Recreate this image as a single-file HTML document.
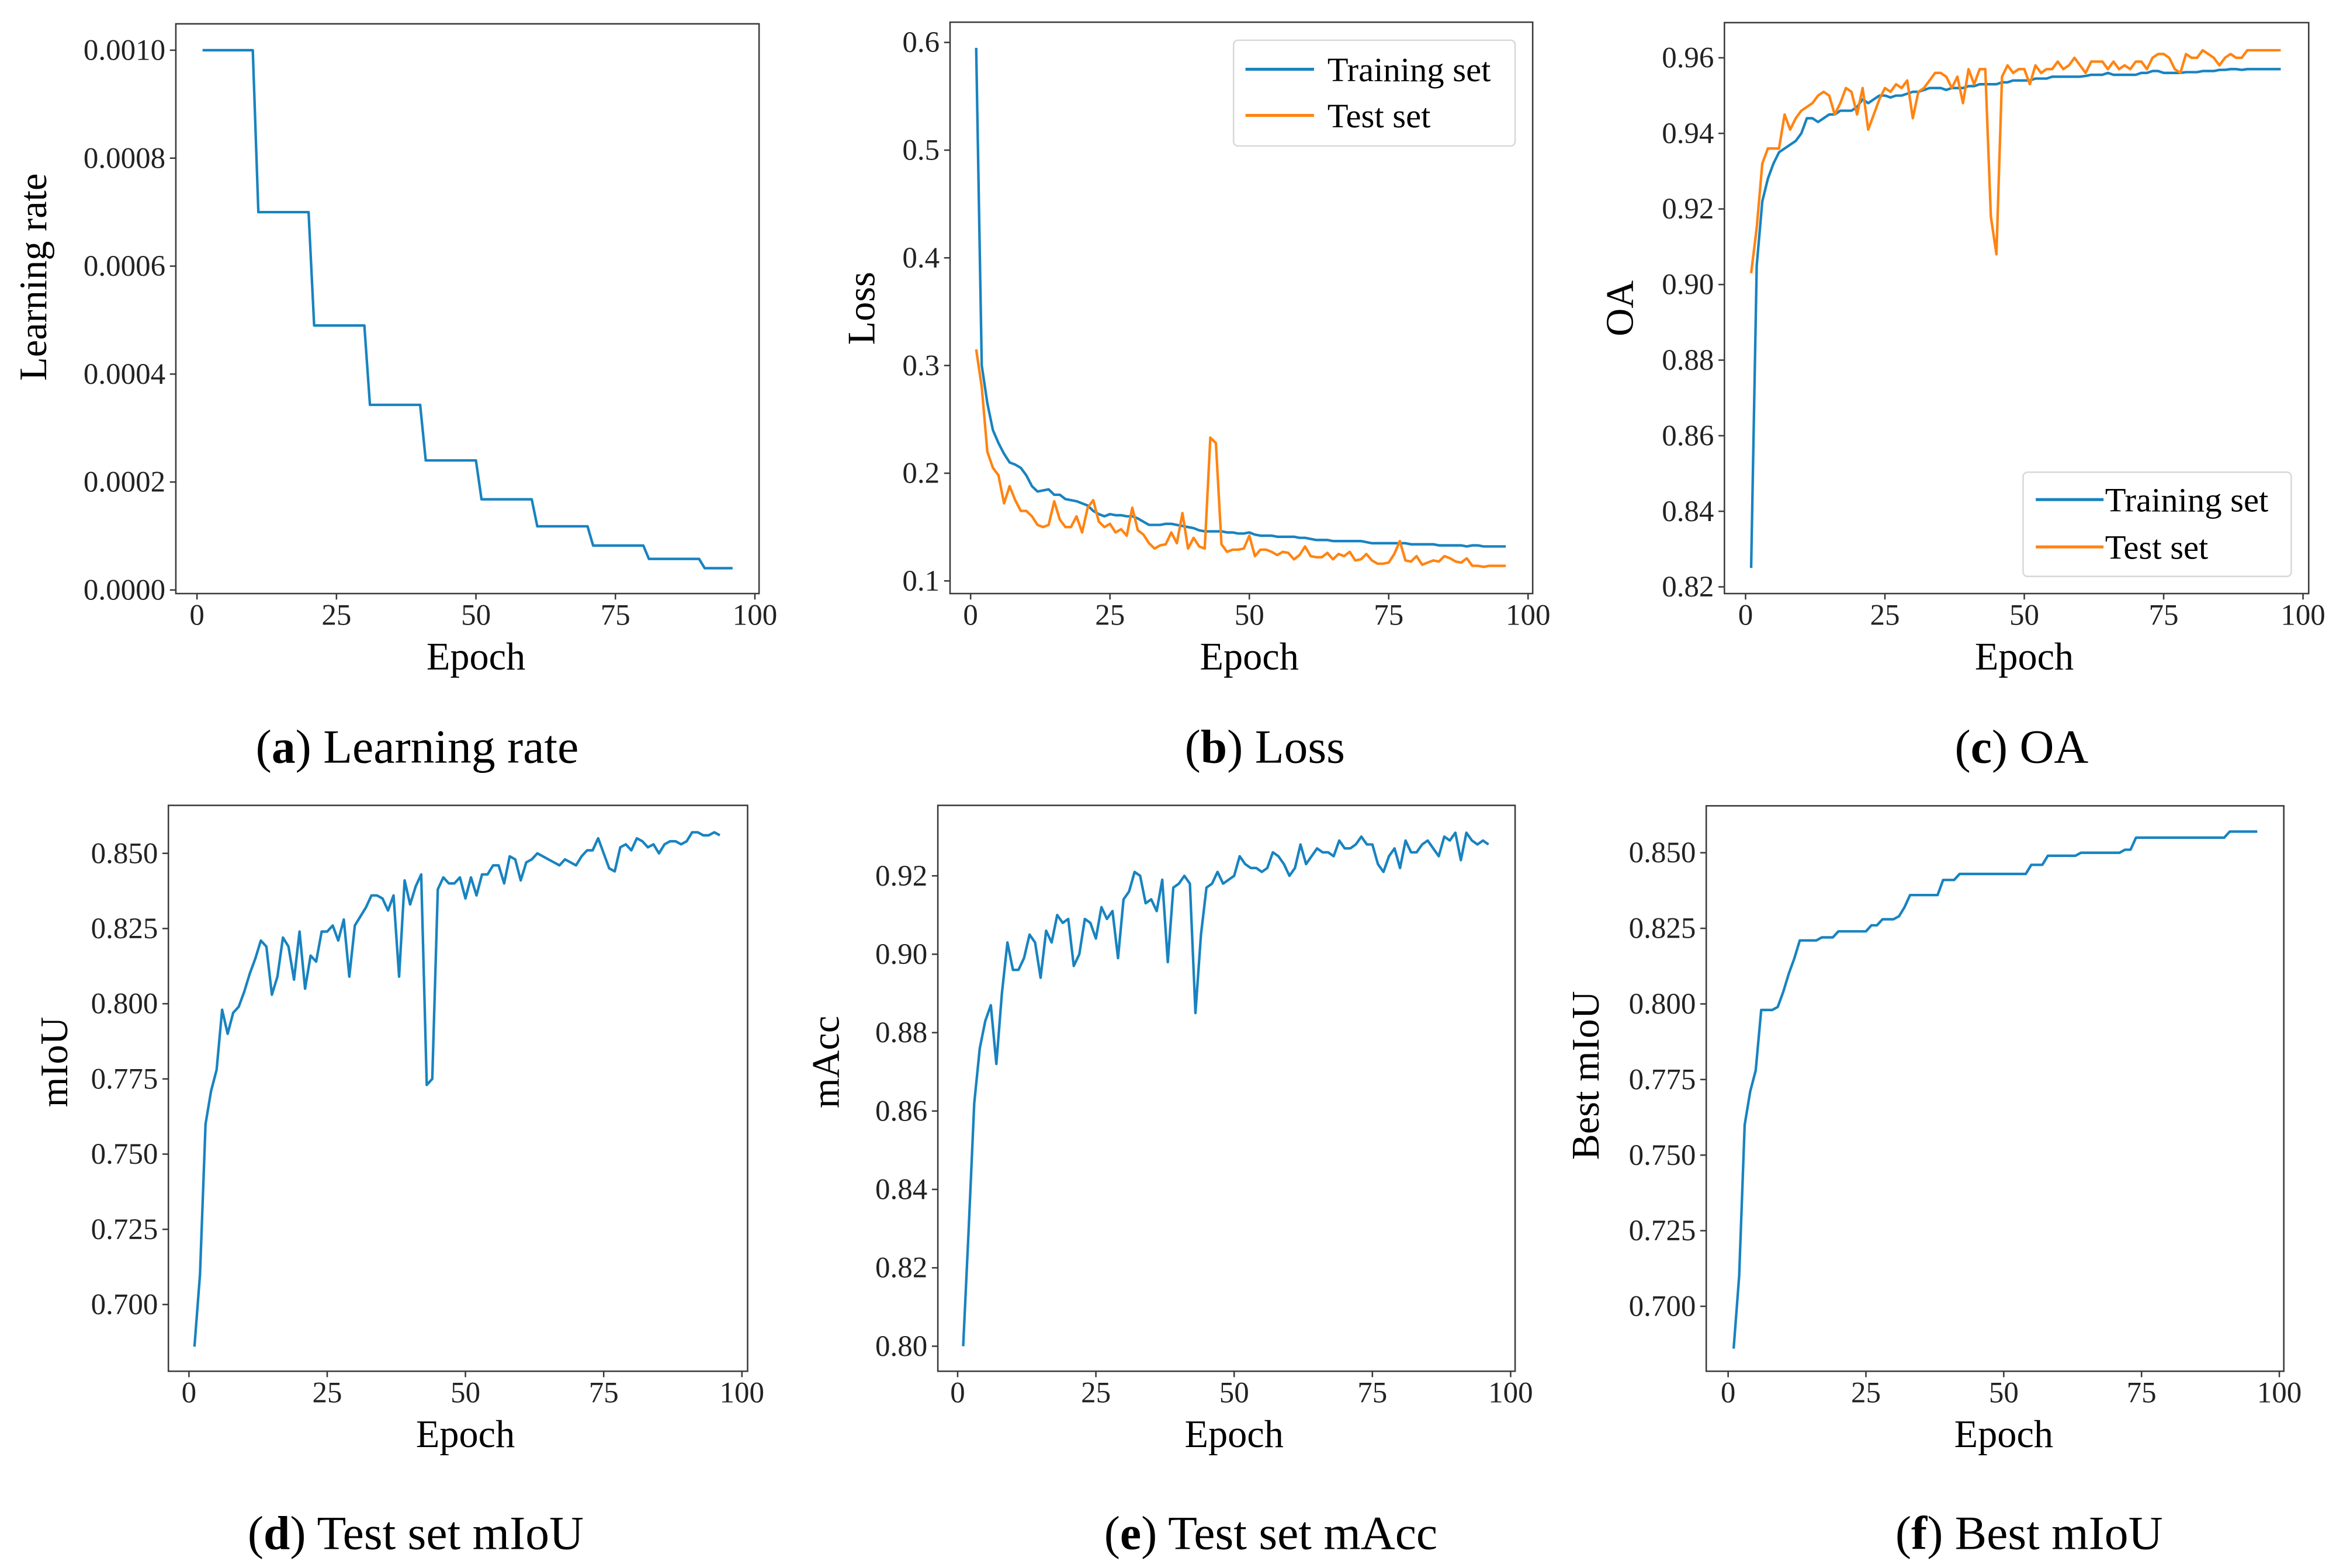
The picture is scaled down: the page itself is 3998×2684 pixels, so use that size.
<!DOCTYPE html>
<html><head><meta charset="utf-8">
<style>
html,body{margin:0;padding:0;background:#fff;}
svg{display:block;}
svg text, svg tspan{font-family:"Liberation Serif","Times New Roman",serif !important;}
</style></head>
<body>
<svg id="fig" width="3998" height="2684" viewBox="0 0 1568 1052.7" xmlns="http://www.w3.org/2000/svg" font-family="Liberation Serif, serif">
<rect x="0" y="0" width="1568" height="1052.7" fill="#fff"/>
</svg>
<script>
// ---- data (epochs 1..96) ----
const epochs = [1,2,3,4,5,6,7,8,9,10,11,12,13,14,15,16,17,18,19,20,21,22,23,24,25,26,27,28,29,30,31,32,33,34,35,36,37,38,39,40,41,42,43,44,45,46,47,48,49,50,51,52,53,54,55,56,57,58,59,60,61,62,63,64,65,66,67,68,69,70,71,72,73,74,75,76,77,78,79,80,81,82,83,84,85,86,87,88,89,90,91,92,93,94,95,96];
const lrValues = [0.001,0.001,0.001,0.001,0.001,0.001,0.001,0.001,0.001,0.001,0.0007,0.0007,0.0007,0.0007,0.0007,0.0007,0.0007,0.0007,0.0007,0.0007,0.00049,0.00049,0.00049,0.00049,0.00049,0.00049,0.00049,0.00049,0.00049,0.00049,0.000343,0.000343,0.000343,0.000343,0.000343,0.000343,0.000343,0.000343,0.000343,0.000343,0.00024,0.00024,0.00024,0.00024,0.00024,0.00024,0.00024,0.00024,0.00024,0.00024,0.000168,0.000168,0.000168,0.000168,0.000168,0.000168,0.000168,0.000168,0.000168,0.000168,0.000118,0.000118,0.000118,0.000118,0.000118,0.000118,0.000118,0.000118,0.000118,0.000118,0.0000824,0.0000824,0.0000824,0.0000824,0.0000824,0.0000824,0.0000824,0.0000824,0.0000824,0.0000824,0.0000576,0.0000576,0.0000576,0.0000576,0.0000576,0.0000576,0.0000576,0.0000576,0.0000576,0.0000576,0.0000404,0.0000404,0.0000404,0.0000404,0.0000404,0.0000404];
const lossTrain = [0.595,0.30,0.265,0.24,0.228,0.218,0.21,0.208,0.205,0.198,0.188,0.183,0.184,0.185,0.180,0.180,0.176,0.175,0.174,0.172,0.170,0.165,0.162,0.160,0.162,0.161,0.161,0.160,0.160,0.158,0.155,0.152,0.152,0.152,0.153,0.153,0.152,0.151,0.150,0.149,0.147,0.146,0.146,0.146,0.146,0.145,0.145,0.144,0.144,0.145,0.143,0.142,0.142,0.142,0.141,0.141,0.141,0.141,0.140,0.140,0.139,0.138,0.138,0.138,0.137,0.137,0.137,0.137,0.137,0.137,0.136,0.135,0.135,0.135,0.135,0.135,0.135,0.135,0.134,0.134,0.134,0.134,0.134,0.133,0.133,0.133,0.133,0.133,0.132,0.133,0.133,0.132,0.132,0.132,0.132,0.132];
const lossTest = [0.315,0.28,0.22,0.205,0.198,0.172,0.188,0.175,0.165,0.165,0.16,0.152,0.15,0.152,0.174,0.157,0.15,0.15,0.16,0.145,0.168,0.175,0.155,0.15,0.153,0.145,0.148,0.142,0.168,0.147,0.143,0.135,0.13,0.133,0.134,0.145,0.135,0.163,0.13,0.14,0.132,0.13,0.233,0.228,0.134,0.127,0.129,0.129,0.13,0.142,0.123,0.129,0.129,0.127,0.124,0.127,0.126,0.12,0.124,0.132,0.123,0.122,0.122,0.126,0.12,0.125,0.123,0.127,0.119,0.12,0.125,0.119,0.116,0.116,0.117,0.125,0.137,0.119,0.118,0.123,0.115,0.117,0.119,0.118,0.123,0.121,0.118,0.117,0.121,0.114,0.114,0.113,0.114,0.114,0.114,0.114];
const oaTrain = [0.825,0.905,0.922,0.928,0.932,0.935,0.936,0.937,0.938,0.940,0.944,0.944,0.943,0.944,0.945,0.945,0.946,0.946,0.946,0.947,0.949,0.948,0.949,0.950,0.950,0.9495,0.950,0.950,0.9505,0.951,0.951,0.9515,0.952,0.952,0.952,0.9515,0.952,0.952,0.952,0.9525,0.9525,0.953,0.953,0.953,0.953,0.9535,0.9535,0.954,0.954,0.954,0.954,0.9545,0.9545,0.9545,0.955,0.955,0.955,0.955,0.955,0.955,0.9552,0.9555,0.9555,0.9555,0.956,0.9555,0.9555,0.9555,0.9555,0.9555,0.956,0.956,0.9565,0.9565,0.956,0.956,0.956,0.956,0.9562,0.9562,0.9562,0.9565,0.9565,0.9565,0.9568,0.9568,0.957,0.957,0.9568,0.957,0.957,0.957,0.957,0.957,0.957,0.957];
const oaTest = [0.903,0.915,0.932,0.936,0.936,0.936,0.945,0.941,0.944,0.946,0.947,0.948,0.950,0.951,0.950,0.945,0.948,0.952,0.951,0.945,0.952,0.941,0.945,0.949,0.952,0.951,0.953,0.952,0.954,0.944,0.951,0.952,0.954,0.956,0.956,0.955,0.952,0.955,0.948,0.957,0.953,0.957,0.957,0.918,0.908,0.955,0.958,0.956,0.957,0.957,0.953,0.958,0.956,0.957,0.957,0.959,0.957,0.958,0.96,0.958,0.956,0.959,0.959,0.959,0.957,0.959,0.957,0.958,0.957,0.959,0.959,0.957,0.96,0.961,0.961,0.96,0.957,0.956,0.961,0.96,0.96,0.962,0.961,0.96,0.958,0.96,0.961,0.96,0.96,0.962,0.962,0.962,0.962,0.962,0.962,0.962];
const miouValues = [0.686,0.71,0.76,0.771,0.778,0.798,0.790,0.797,0.799,0.804,0.810,0.815,0.821,0.819,0.803,0.809,0.822,0.819,0.808,0.824,0.805,0.816,0.814,0.824,0.824,0.826,0.821,0.828,0.809,0.826,0.829,0.832,0.836,0.836,0.835,0.831,0.836,0.809,0.841,0.833,0.839,0.843,0.773,0.775,0.838,0.842,0.840,0.840,0.842,0.835,0.842,0.836,0.843,0.843,0.846,0.846,0.840,0.849,0.848,0.841,0.847,0.848,0.850,0.849,0.848,0.847,0.846,0.848,0.847,0.846,0.849,0.851,0.851,0.855,0.850,0.845,0.844,0.852,0.853,0.851,0.855,0.854,0.852,0.853,0.850,0.853,0.854,0.854,0.853,0.854,0.857,0.857,0.856,0.856,0.857,0.856];
const maccValues = [0.800,0.83,0.862,0.876,0.883,0.887,0.872,0.890,0.903,0.896,0.896,0.899,0.905,0.903,0.894,0.906,0.903,0.910,0.908,0.909,0.897,0.900,0.909,0.908,0.904,0.912,0.909,0.911,0.899,0.914,0.916,0.921,0.920,0.913,0.914,0.911,0.919,0.898,0.917,0.918,0.920,0.918,0.885,0.905,0.917,0.918,0.921,0.918,0.919,0.920,0.925,0.923,0.922,0.922,0.921,0.922,0.926,0.925,0.923,0.920,0.922,0.928,0.923,0.925,0.927,0.926,0.926,0.925,0.929,0.927,0.927,0.928,0.930,0.928,0.928,0.923,0.921,0.925,0.927,0.922,0.929,0.926,0.926,0.928,0.929,0.927,0.925,0.930,0.929,0.931,0.924,0.931,0.929,0.928,0.929,0.928];
const bestMiou = [0.686,0.71,0.76,0.771,0.778,0.798,0.798,0.798,0.799,0.804,0.810,0.815,0.821,0.821,0.821,0.821,0.822,0.822,0.822,0.824,0.824,0.824,0.824,0.824,0.824,0.826,0.826,0.828,0.828,0.828,0.829,0.832,0.836,0.836,0.836,0.836,0.836,0.836,0.841,0.841,0.841,0.843,0.843,0.843,0.843,0.843,0.843,0.843,0.843,0.843,0.843,0.843,0.843,0.843,0.846,0.846,0.846,0.849,0.849,0.849,0.849,0.849,0.849,0.850,0.850,0.850,0.850,0.850,0.850,0.850,0.850,0.851,0.851,0.855,0.855,0.855,0.855,0.855,0.855,0.855,0.855,0.855,0.855,0.855,0.855,0.855,0.855,0.855,0.855,0.855,0.857,0.857,0.857,0.857,0.857,0.857];

const xTicks = [0,25,50,75,100];
const yTicksLR = [0,0.0002,0.0004,0.0006,0.0008,0.0010];
const yLabelsLR = ["0.0000","0.0002","0.0004","0.0006","0.0008","0.0010"];
const yTicksLoss = [0.1,0.2,0.3,0.4,0.5,0.6];
const yLabelsLoss = ["0.1","0.2","0.3","0.4","0.5","0.6"];
const yTicksOA = [0.82,0.84,0.86,0.88,0.90,0.92,0.94,0.96];
const yLabelsOA = ["0.82","0.84","0.86","0.88","0.90","0.92","0.94","0.96"];
const yTicksMiou = [0.700,0.725,0.750,0.775,0.800,0.825,0.850];
const yLabelsMiou = ["0.700","0.725","0.750","0.775","0.800","0.825","0.850"];
const yTicksAcc = [0.80,0.82,0.84,0.86,0.88,0.90,0.92];
const yLabelsAcc = ["0.80","0.82","0.84","0.86","0.88","0.90","0.92"];

const BLUE = "#1883c0", ORANGE = "#ff8412";
const FONT = '"Liberation Serif", serif';
const svg = document.getElementById('fig');
const NS = "http://www.w3.org/2000/svg";
function mk(tag, attrs, parent){
  const e = document.createElementNS(NS, tag);
  for (const k in attrs) e.setAttribute(k, attrs[k]);
  (parent||svg).appendChild(e);
  return e;
}
function txt(str, attrs, parent){
  attrs["font-family"] = FONT;
  const t = mk('text', attrs, parent);
  t.textContent = str;
  return t;
}

function panel(cfg){
  const g = mk('g', {});
  
  
  const L=cfg.box[0], R=cfg.box[1], T=cfg.box[2], B=cfg.box[3];
  const xs = v => cfg.x0 + (v-0)/(100-0)*(cfg.x100-cfg.x0);
  const ys = v => cfg.yA + (v-cfg.vA)/(cfg.vB-cfg.vA)*(cfg.yB-cfg.yA);
  cfg.series.forEach(s=>{
    let d = "";
    s.values.forEach((v,i)=>{ d += (i?"L":"M") + xs(epochs[i]).toFixed(2) + "," + ys(v).toFixed(2); });
    const p = mk('path', {d:d, fill:"none", stroke:s.color, "stroke-width":1.7, "stroke-linejoin":"round"}, g);
    
    
  });
  const fr = mk('rect', {x:L, y:T, width:R-L, height:B-T, fill:"none", stroke:"#3a3a3a", "stroke-width":1}, g);
  
  
  xTicks.forEach(v=>{
    const x = xs(v);
    mk('line', {x1:x, x2:x, y1:B, y2:B+4, stroke:"#3a3a3a", "stroke-width":1}, g);
    const t = txt(String(v), {x:x, y:B+21, "font-size":20, "text-anchor":"middle", fill:"#222"}, g);
    
    
  });
  cfg.yTicks.forEach((v,i)=>{
    const y = ys(v);
    mk('line', {x1:L-4, x2:L, y1:y, y2:y, stroke:"#3a3a3a", "stroke-width":1}, g);
    const t = txt(cfg.yLabels[i], {x:L-7, y:y+6.5, "font-size":20, "text-anchor":"end", fill:"#222"}, g);
    
    
  });
  const xl = txt("Epoch", {x:(xs(0)+xs(100))/2, y:B+51, "font-size":26, "text-anchor":"middle"}, g);
  
  
  const yl = txt(cfg.ylabel, {x:0, y:0, "font-size":26, "text-anchor":"middle", transform:`translate(${cfg.ylx},${cfg.yly}) rotate(-90)`}, g);
  
  
  const cap = mk('text', {x:cfg.capX, y:cfg.capY, "font-size":32, "text-anchor":"middle", "font-family":FONT}, g);
  
  
  const s1 = mk('tspan', {}, cap); s1.textContent = "(";
  const s2 = mk('tspan', {"font-weight":"bold"}, cap); s2.textContent = cfg.letter;
  const s3 = mk('tspan', {}, cap); s3.textContent = ") " + cfg.caption;
  if (cfg.legend){
    const lg = cfg.legend;
    const lgG = mk('g', {}, g);
    
    
    mk('rect', {x:lg.x, y:lg.y, width:lg.w, height:lg.h, rx:3, fill:"#fff", "fill-opacity":0.85, stroke:"#d8d8d8", "stroke-width":1}, lgG);
    cfg.series.forEach((s,i)=>{
      const cy = lg.rows[i];
      mk('line', {x1:lg.l1, x2:lg.l2, y1:cy, y2:cy, stroke:s.color, "stroke-width":2}, lgG);
      const t = txt(s.label, {x:lg.tx, y:cy+8, "font-size":23}, lgG);
      
      
    });
  }
}

panel({name:"panel-learning-rate", box:[118,509.5,16,398.5], x0:132.2, x100:506.7, vA:0, yA:396.1, vB:0.001, yB:33.7,
  yTicks:yTicksLR, yLabels:yLabelsLR, ylabel:"Learning rate", ylx:31, yly:186,
  series:[{name:"lr-line", values:lrValues, color:BLUE}], letter:"a", caption:"Learning rate", capX:280, capY:512});
panel({name:"panel-loss", box:[637.7,1028.8,14.9,398.5], x0:651.5, x100:1025.7, vA:0.1, yA:390, vB:0.6, yB:28.5,
  yTicks:yTicksLoss, yLabels:yLabelsLoss, ylabel:"Loss", ylx:587, yly:207,
  series:[{name:"loss-training-line", label:"Training set", values:lossTrain, color:BLUE},{name:"loss-test-line", label:"Test set", values:lossTest, color:ORANGE}],
  legend:{x:828, y:27, w:189, h:71, l1:836, l2:882, tx:891, rows:[46.5,77.5]},
  letter:"b", caption:"Loss", capX:849, capY:512});
panel({name:"panel-oa", box:[1157.5,1549.7,15.2,398.5], x0:1171.7, x100:1545.9, vA:0.82, yA:394, vB:0.96, yB:38.8,
  yTicks:yTicksOA, yLabels:yLabelsOA, ylabel:"OA", ylx:1096, yly:207,
  series:[{name:"oa-training-line", label:"Training set", values:oaTrain, color:BLUE},{name:"oa-test-line", label:"Test set", values:oaTest, color:ORANGE}],
  legend:{x:1358, y:317, w:180, h:70, l1:1366.5, l2:1412, tx:1413, rows:[335.4,367.2]},
  letter:"c", caption:"OA", capX:1357, capY:512});
panel({name:"panel-test-miou", box:[113,501.8,540.7,920.6], x0:126.8, x100:498, vA:0.70, yA:875.8, vB:0.85, yB:572.9,
  yTicks:yTicksMiou, yLabels:yLabelsMiou, ylabel:"mIoU", ylx:45, yly:713,
  series:[{name:"miou-line", values:miouValues, color:BLUE}], letter:"d", caption:"Test set mIoU", capX:279, capY:1040});
panel({name:"panel-test-macc", box:[629.5,1017,540.7,920.6], x0:642.8, x100:1014, vA:0.80, yA:903.8, vB:0.92, yB:588,
  yTicks:yTicksAcc, yLabels:yLabelsAcc, ylabel:"mAcc", ylx:563, yly:713,
  series:[{name:"macc-line", values:maccValues, color:BLUE}], letter:"e", caption:"Test set mAcc", capX:853, capY:1040});
panel({name:"panel-best-miou", box:[1145.3,1533,541,920.6], x0:1160, x100:1530, vA:0.70, yA:877, vB:0.85, yB:572.5,
  yTicks:yTicksMiou, yLabels:yLabelsMiou, ylabel:"Best mIoU", ylx:1073, yly:722,
  series:[{name:"best-miou-line", values:bestMiou, color:BLUE}], letter:"f", caption:"Best mIoU", capX:1362, capY:1040});
</script>
</body></html>
